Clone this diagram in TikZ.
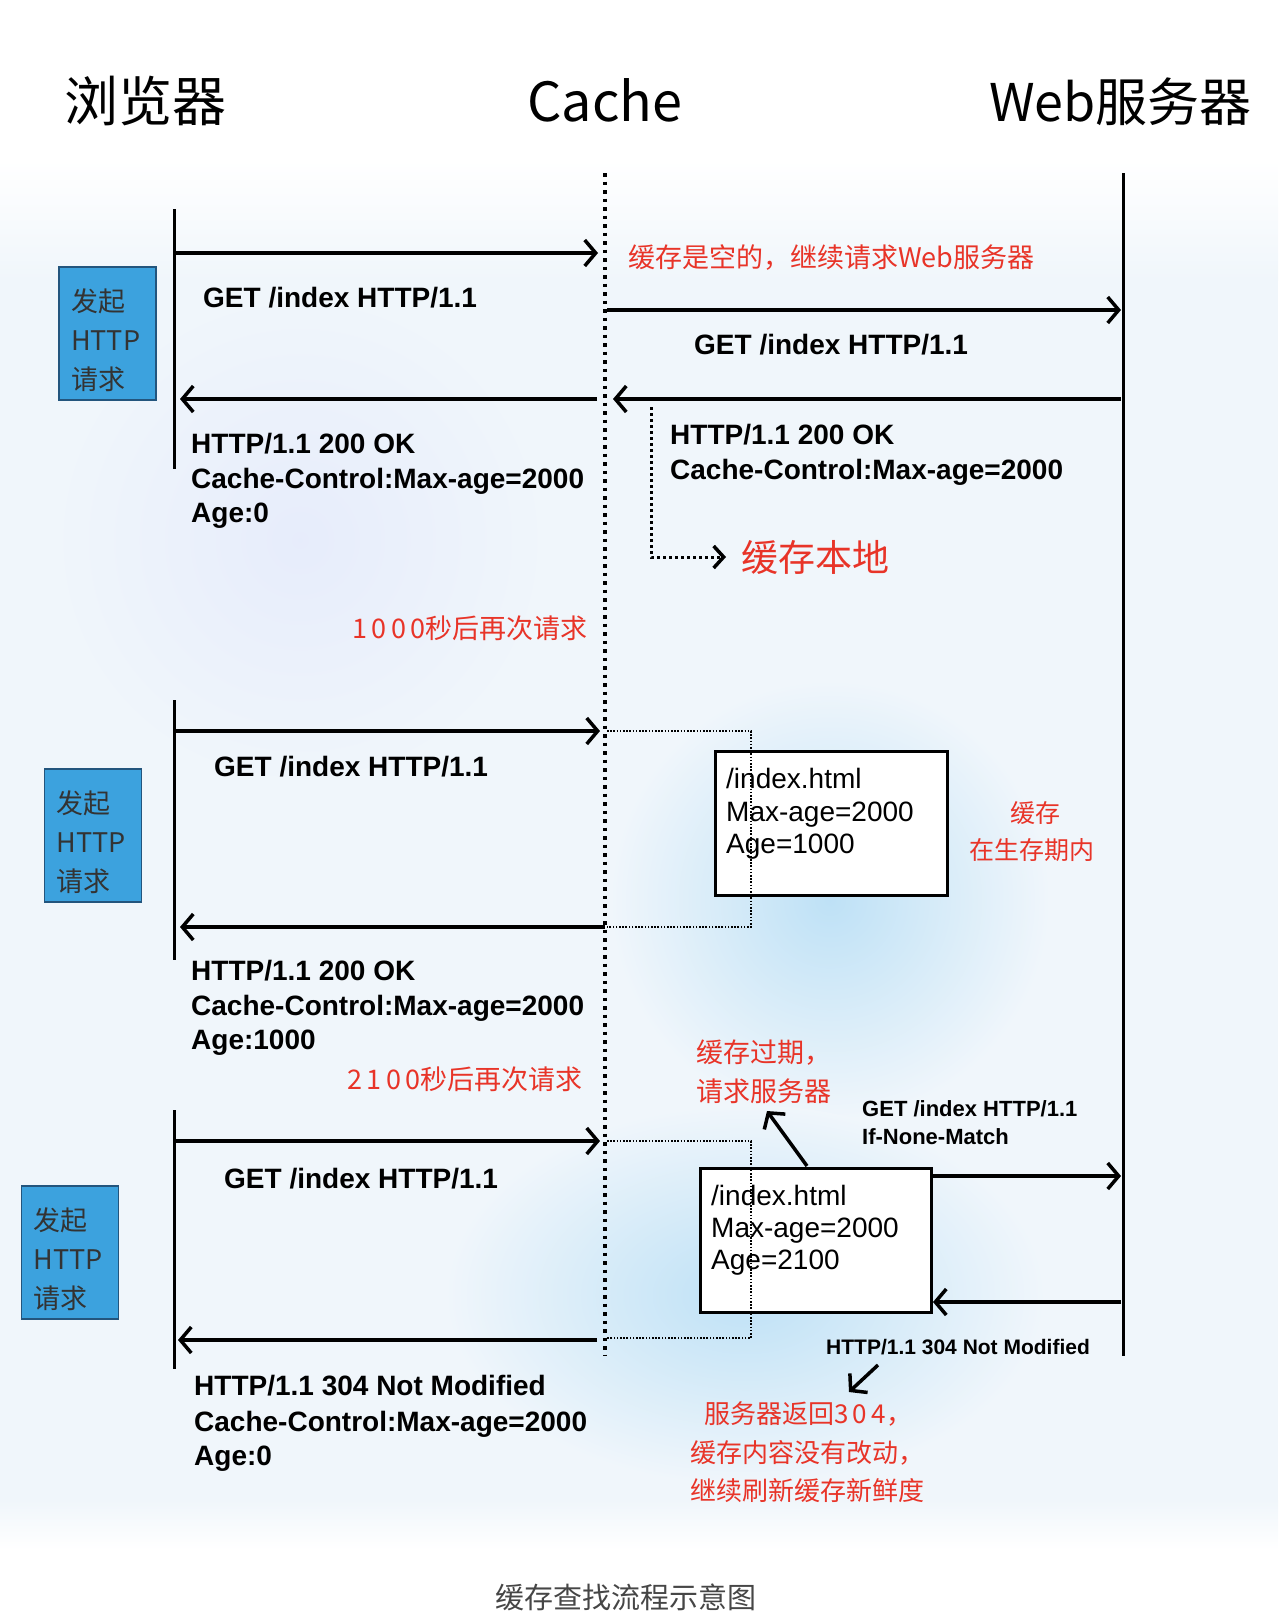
\documentclass[tikz,border=0pt]{standalone}
\usepackage{fontspec}
\setmainfont{Liberation Sans}
\newfontfamily\cjk{Noto Sans CJK SC}
\usetikzlibrary{arrows.meta}
\definecolor{boxblue}{RGB}{60,162,222}
\definecolor{boxedge}{RGB}{35,85,125}
\definecolor{noteRed}{RGB}{232,52,40}
\definecolor{bgblue}{RGB}{240,246,251}
\definecolor{blobblue}{RGB}{190,225,246}
\definecolor{capgray}{RGB}{70,70,70}
\tikzset{
  lifeline/.style={line width=3pt},
  cacheline/.style={line width=3.5pt, dash pattern=on 3.5pt off 5pt},
  msg/.style={line width=3.5pt, -{Straight Barb[length=11pt,width=26pt,line width=3.5pt]}},
  thindot/.style={line width=1.6pt, dash pattern=on 1.6pt off 1.6pt},
  dotarrow/.style={line width=3pt, dash pattern=on 3pt off 3pt, -{Straight Barb[length=10pt,width=22pt,line width=3.5pt]}},
  bluebox/.style={draw=boxedge, line width=1.5pt, fill=boxblue, minimum width=97pt, minimum height=133pt, inner sep=0pt},
  bluetext/.style={inner sep=0pt, align=left, text width=73pt, font=\cjk\fontsize{27}{39}\selectfont, text=black!80},
  cachebox/.style={draw, line width=3pt, fill=white, inner sep=0pt},
  lbl/.style={anchor=base west, inner sep=0pt, font=\fontsize{28}{34}\selectfont\bfseries},
  smalllbl/.style={anchor=base west, inner sep=0pt, font=\fontsize{22}{28}\selectfont\bfseries},
  boxtxt/.style={anchor=base west, inner sep=0pt, font=\fontsize{28}{34}\selectfont},
  note/.style={inner sep=0pt, text=noteRed, font=\cjk\fontsize{26}{30}\selectfont},
  headline/.style={inner sep=0pt, anchor=base, font=\cjk\fontsize{54}{60}\selectfont},
}
\begin{document}
\begin{tikzpicture}[x=1pt,y=-1pt]
\useasboundingbox (0,0) rectangle (1278,1622);
\fill[white] (0,0) rectangle (1278,1622);
% background wash
\shade[top color=white, bottom color=bgblue] (0,160) rectangle (1278,280);
\fill[bgblue] (0,279) rectangle (1278,1501);
\shade[top color=bgblue, bottom color=white] (0,1500) rectangle (1278,1550);
\shade[inner color=blue!4!bgblue, outer color=bgblue] (300,540) circle (250);
\shade[inner color=blobblue, outer color=bgblue] (830,900) circle (220);
\shade[inner color=blobblue, outer color=bgblue] (745,1295) ellipse (300 and 190);

% titles
\node[headline, anchor=base west] (tb) at (64,121) {浏览器};
\node[headline] (tc) at (605,121) {Cache};
\node[headline, anchor=base east, font=\cjk\fontsize{52}{60}\selectfont] (tw) at (1252,121) {Web服务器};

% lifelines
\coordinate (cTop) at (605,173); \coordinate (cBot) at (605,1356);
\coordinate (sTop) at (1123,173); \coordinate (sBot) at (1123,1356);
\draw[cacheline] (cTop) -- (cBot);
\draw[lifeline] (sTop) -- (sBot);
\coordinate (b1t) at (174,209); \coordinate (b1b) at (174,469);
\coordinate (b2t) at (174,700); \coordinate (b2b) at (174,960);
\coordinate (b3t) at (174,1110); \coordinate (b3b) at (174,1369);
\draw[lifeline] (b1t) -- (b1b);
\draw[lifeline] (b2t) -- (b2b);
\draw[lifeline] (b3t) -- (b3b);

% blue boxes
\node[bluebox] (bb1) at (107.5,333.5) {};
\node[bluetext] (bt1) at (107.5,340) {发起\\HTTP\\请求};
\node[bluebox] (bb2) at (93,835.5) {};
\node[bluetext] (bt2) at (93,842) {发起\\HTTP\\请求};
\node[bluebox] (bb3) at (70,1252.5) {};
\node[bluetext] (bt3) at (70,1259) {发起\\HTTP\\请求};

% ---- section 1
\coordinate (p1a) at (176,253); \coordinate (p1b) at (598,253);
\draw[msg] (p1a) -- (p1b);
\node[lbl] (g1) at (203,307) {GET /index HTTP/1.1};
\node[note, anchor=base west, font=\cjk\fontsize{27}{30}\selectfont] (n1) at (628,267) {缓存是空的，继续请求Web服务器};
\coordinate (p2a) at (607,310); \coordinate (p2b) at (1121,310);
\draw[msg] (p2a) -- (p2b);
\node[lbl] (g2) at (694,354) {GET /index HTTP/1.1};
\coordinate (p3a) at (1121,399); \coordinate (p3b) at (613,399);
\draw[msg] (p3a) -- (p3b);
\coordinate (p4a) at (597,399); \coordinate (p4b) at (180,399);
\draw[msg] (p4a) -- (p4b);
\node[lbl] (r1a) at (191,453) {HTTP/1.1 200 OK};
\node[lbl] (r1b) at (191,488) {Cache-Control:Max-age=2000};
\node[lbl] (r1c) at (191,522) {Age:0};
\node[lbl] (s1a) at (670,444) {HTTP/1.1 200 OK};
\node[lbl] (s1b) at (670,479) {Cache-Control:Max-age=2000};
\coordinate (d1a) at (651,407); \coordinate (d1b) at (726,557);
\draw[dotarrow] (d1a) |- (d1b);
\node[note, anchor=base west, font=\cjk\fontsize{37}{40}\selectfont] (n2) at (741,571) {缓存本地};

% ---- section 2
\node[note, anchor=base east, font=\cjk\fontsize{27}{30}\selectfont] (n3) at (588,638) {1\,0\,0\,0秒后再次请求};
\coordinate (p5a) at (176,731); \coordinate (p5b) at (600,731);
\draw[msg] (p5a) -- (p5b);
\node[lbl] (g3) at (214,776) {GET /index HTTP/1.1};
\node[cachebox, minimum width=232pt, minimum height=144pt] (cb1) at (831,823) {};
\node[boxtxt] (cb1a) at (726,788) {/index.html};
\node[boxtxt] (cb1b) at (726,821) {Max-age=2000};
\node[boxtxt] (cb1c) at (726,853) {Age=1000};
\coordinate (q1) at (607,731); \coordinate (q2) at (751,731);
\coordinate (q3) at (751,927); \coordinate (q4) at (607,927);
\draw[thindot] (q1) -- (q2) -- (q3) -- (q4);
\node[note, anchor=base, font=\cjk\fontsize{25}{30}\selectfont] (n4) at (1035,822) {缓存};
\node[note, anchor=base, font=\cjk\fontsize{25}{30}\selectfont] (n5) at (1032,859) {在生存期内};
\coordinate (p6a) at (605,927); \coordinate (p6b) at (180,927);
\draw[msg] (p6a) -- (p6b);
\node[lbl] (r2a) at (191,980) {HTTP/1.1 200 OK};
\node[lbl] (r2b) at (191,1015) {Cache-Control:Max-age=2000};
\node[lbl] (r2c) at (191,1049) {Age:1000};

% ---- section 3
\node[note, anchor=base east, font=\cjk\fontsize{27}{30}\selectfont] (n6) at (583,1089) {2\,1\,0\,0秒后再次请求};
\coordinate (p7a) at (176,1141); \coordinate (p7b) at (600,1141);
\draw[msg] (p7a) -- (p7b);
\node[lbl] (g4) at (224,1188) {GET /index HTTP/1.1};
\node[cachebox, minimum width=231pt, minimum height=144pt] (cb2) at (815.5,1240) {};
\node[boxtxt] (cb2a) at (711,1205) {/index.html};
\node[boxtxt] (cb2b) at (711,1237) {Max-age=2000};
\node[boxtxt] (cb2c) at (711,1269) {Age=2100};
\coordinate (q5) at (607,1141); \coordinate (q6) at (751,1141);
\coordinate (q7) at (751,1338); \coordinate (q8) at (607,1338);
\draw[thindot] (q5) -- (q6) -- (q7) -- (q8);
\node[note, anchor=base west, font=\cjk\fontsize{27}{30}\selectfont] (n7) at (696,1062) {缓存过期，};
\node[note, anchor=base west, font=\cjk\fontsize{27}{30}\selectfont] (n8) at (696,1101) {请求服务器};
\coordinate (e1) at (807,1166); \coordinate (e2) at (767,1111);
\draw[msg] (e1) -- (e2);
\node[smalllbl] (g5) at (862,1116) {GET /index HTTP/1.1};
\node[smalllbl] (g6) at (862,1144) {If-None-Match};
\coordinate (p8a) at (932,1176); \coordinate (p8b) at (1121,1176);
\draw[msg] (p8a) -- (p8b);
\coordinate (p9a) at (1121,1302); \coordinate (p9b) at (933,1302);
\draw[msg] (p9a) -- (p9b);
\node[smalllbl, font=\fontsize{21}{26}\selectfont\bfseries] (g7) at (826,1354) {HTTP/1.1 304 Not Modified};
\coordinate (e3) at (878,1365); \coordinate (e4) at (849,1392);
\draw[msg] (e3) -- (e4);
\node[note, anchor=base west] (n9) at (704,1423) {服务器返回3\,0\,4，};
\node[note, anchor=base west] (n10) at (690,1462) {缓存内容没有改动，};
\node[note, anchor=base west] (n11) at (690,1500) {继续刷新缓存新鲜度};
\coordinate (p10a) at (597,1340); \coordinate (p10b) at (178,1340);
\draw[msg] (p10a) -- (p10b);
\node[lbl] (r3a) at (194,1395) {HTTP/1.1 304 Not Modified};
\node[lbl] (r3b) at (194,1431) {Cache-Control:Max-age=2000};
\node[lbl] (r3c) at (194,1465) {Age:0};

% caption
\node[inner sep=0pt, anchor=base, text=capgray, font=\cjk\fontsize{29}{32}\selectfont] (cap) at (626,1608) {缓存查找流程示意图};
\end{tikzpicture}
\end{document}
